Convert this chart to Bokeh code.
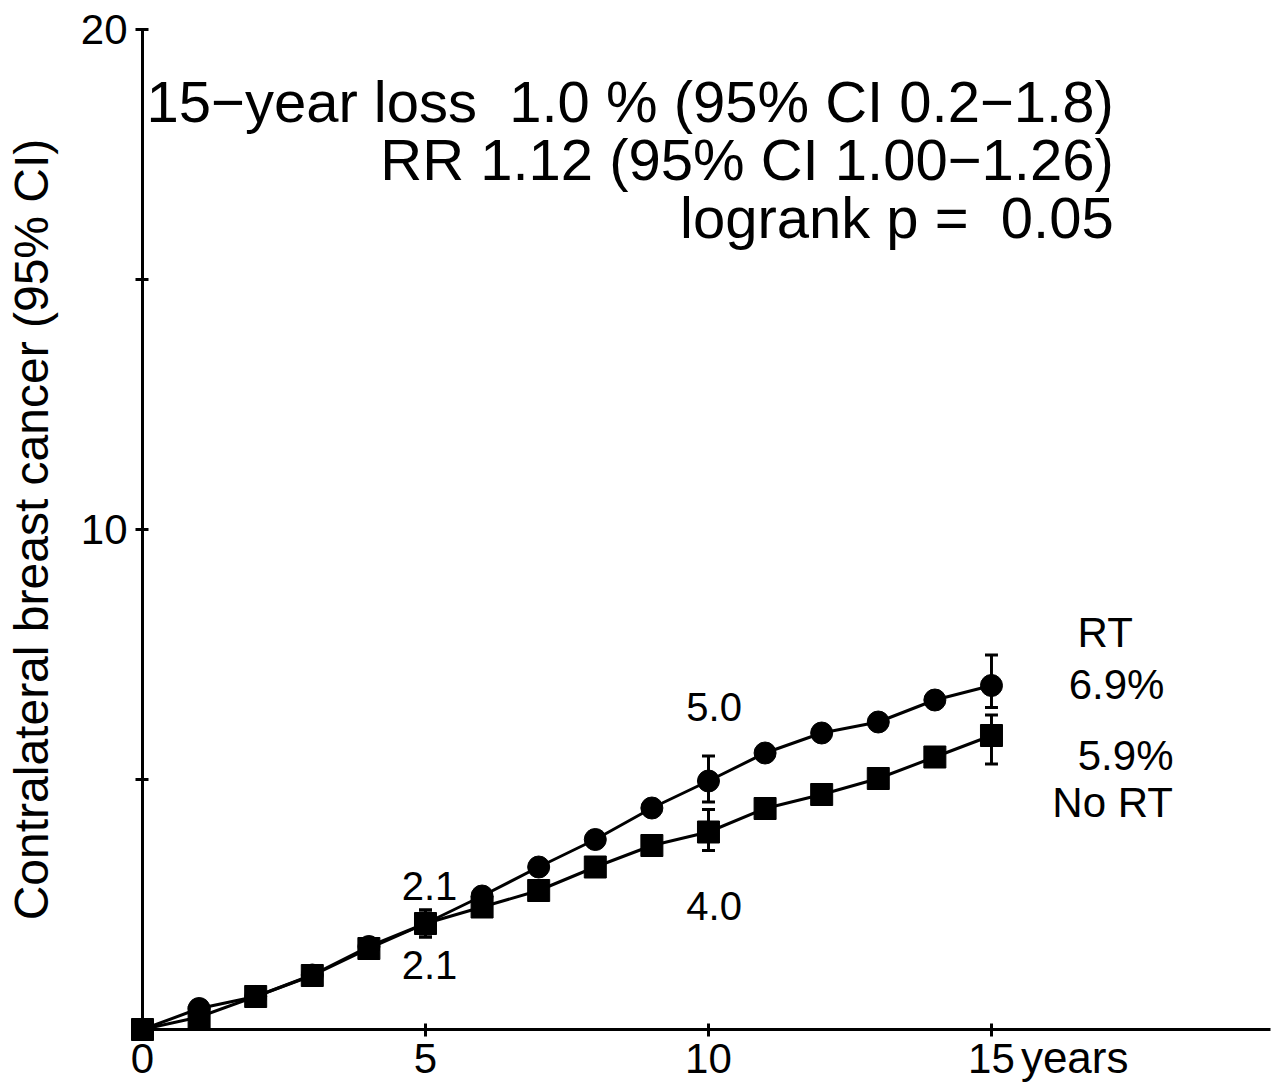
from bokeh.plotting import figure
from bokeh.models import Range1d, FixedTicker, Label, ColumnDataSource
from bokeh.core.properties import value
from bokeh.embed import file_html
from bokeh.resources import INLINE

# ---- data ----
years = [0, 1, 2, 3, 4, 5, 6, 7, 8, 9, 10, 11, 12, 13, 14, 15]
rt = [0.0, 0.42, 0.66, 1.09, 1.66, 2.12, 2.67, 3.25, 3.80, 4.43, 4.97, 5.53, 5.93, 6.15, 6.59, 6.88]
no_rt = [0.0, 0.25, 0.66, 1.08, 1.62, 2.12, 2.45, 2.78, 3.25, 3.68, 3.95, 4.42, 4.70, 5.02, 5.45, 5.88]

ci_years = [5, 10, 15]
rt_lo = [1.85, 4.55, 6.44]
rt_hi = [2.39, 5.47, 7.49]
no_rt_lo = [1.85, 3.58, 5.31]
no_rt_hi = [2.39, 4.40, 6.29]

x_ticks = [0, 5, 10, 15]
y_ticks = [5, 10, 15, 20]
y_tick_labels = {5: "", 10: "10", 15: "", 20: "20"}

stats_lines = ["15\u2212year loss \u00a01.0 % (95% CI 0.2\u22121.8)",
               "RR 1.12 (95% CI 1.00\u22121.26)",
               "logrank p = \u00a00.05"]

FONT = "Liberation Sans"

p = figure(width=1283, height=1086, output_backend="svg", toolbar_location=None,
           x_range=Range1d(0, 19.93), y_range=Range1d(0, 20), title=None,
           min_border_left=142, min_border_right=13, min_border_top=29, min_border_bottom=57)
p.outline_line_color = None
p.xgrid.visible = False
p.ygrid.visible = False
p.background_fill_color = "white"
p.border_fill_color = "white"

for ax in (p.xaxis[0], p.yaxis[0]):
    ax.axis_line_width = 3
    ax.axis_line_color = "black"
    ax.major_tick_line_width = 3
    ax.major_tick_line_color = "black"
    ax.major_tick_in = 6
    ax.major_tick_out = 7
    ax.minor_tick_line_color = None
    ax.major_label_text_font = FONT
    ax.major_label_text_font_size = "42px"
    ax.major_label_text_color = "black"

p.xaxis[0].ticker = FixedTicker(ticks=x_ticks)
p.xaxis[0].major_label_standoff = 7
p.yaxis[0].ticker = FixedTicker(ticks=y_ticks)
p.yaxis[0].major_label_overrides = y_tick_labels
p.yaxis[0].major_label_standoff = 8
p.yaxis[0].axis_label = "Contralateral breast cancer (95% CI)"
p.yaxis[0].axis_label_text_font = FONT
p.yaxis[0].axis_label_text_font_size = "48px"
p.yaxis[0].axis_label_text_font_style = "normal"
p.yaxis[0].axis_label_text_color = "black"
p.yaxis[0].axis_label_standoff = 20

src = ColumnDataSource(dict(x=years, rt=rt, no=no_rt))
ci = ColumnDataSource(dict(x=ci_years, rl=rt_lo, rh=rt_hi, nl=no_rt_lo, nh=no_rt_hi))

# error bars
for lo, hi in (("rl", "rh"), ("nl", "nh")):
    p.segment(x0="x", y0=lo, x1="x", y1=hi, source=ci, line_color="black", line_width=3)
    p.scatter(x="x", y=lo, source=ci, marker="dash", size=13, line_color="black", line_width=3)
    p.scatter(x="x", y=hi, source=ci, marker="dash", size=13, line_color="black", line_width=3)

# curves
p.line(x="x", y="rt", source=src, line_color="black", line_width=3)
p.line(x="x", y="no", source=src, line_color="black", line_width=3)
r1 = p.scatter(x="x", y="rt", source=src, marker="circle", size=22, fill_color="black", line_color="black")
r2 = p.scatter(x="x", y="no", source=src, marker="square", size=22, fill_color="black", line_color="black")
r1.level = "overlay"
r2.level = "overlay"

def lab(x, y, text, size, align="center", baseline="alphabetic"):
    p.add_layout(Label(x=x, y=y, text=text, text_font=FONT, text_font_size=size,
                       text_align=align, text_baseline=baseline, text_color="black"))

# statistics block
for i, t in enumerate(stats_lines):
    lab(17.16, 18.56 - 1.16 * i, t, "58px", align="right")

# value labels
lab(5.07, 2.88, f"{rt[5]:.1f}", "40px")
lab(5.07, 1.30, f"{no_rt[5]:.1f}", "40px")
lab(10.1, 6.46, f"{rt[10]:.1f}", "40px")
lab(10.1, 2.48, f"{no_rt[10]:.1f}", "40px")

# group labels
lab(17.01, 7.94, "RT", "42px")
lab(17.21, 6.90, f"{rt[15]:.1f}%", "42px")
lab(17.37, 5.48, f"{no_rt[15]:.1f}%", "42px")
lab(17.14, 4.55, "No RT", "42px")

# x axis unit, next to the last tick label
yr = p.text(x=[15.52], y=[-0.56], text=["years"], text_font=value(FONT), text_font_size="44px",
            text_align="left", text_baseline="alphabetic", text_color="black")
yr.level = "overlay"

open("out.html", "w").write(file_html(p, INLINE))
